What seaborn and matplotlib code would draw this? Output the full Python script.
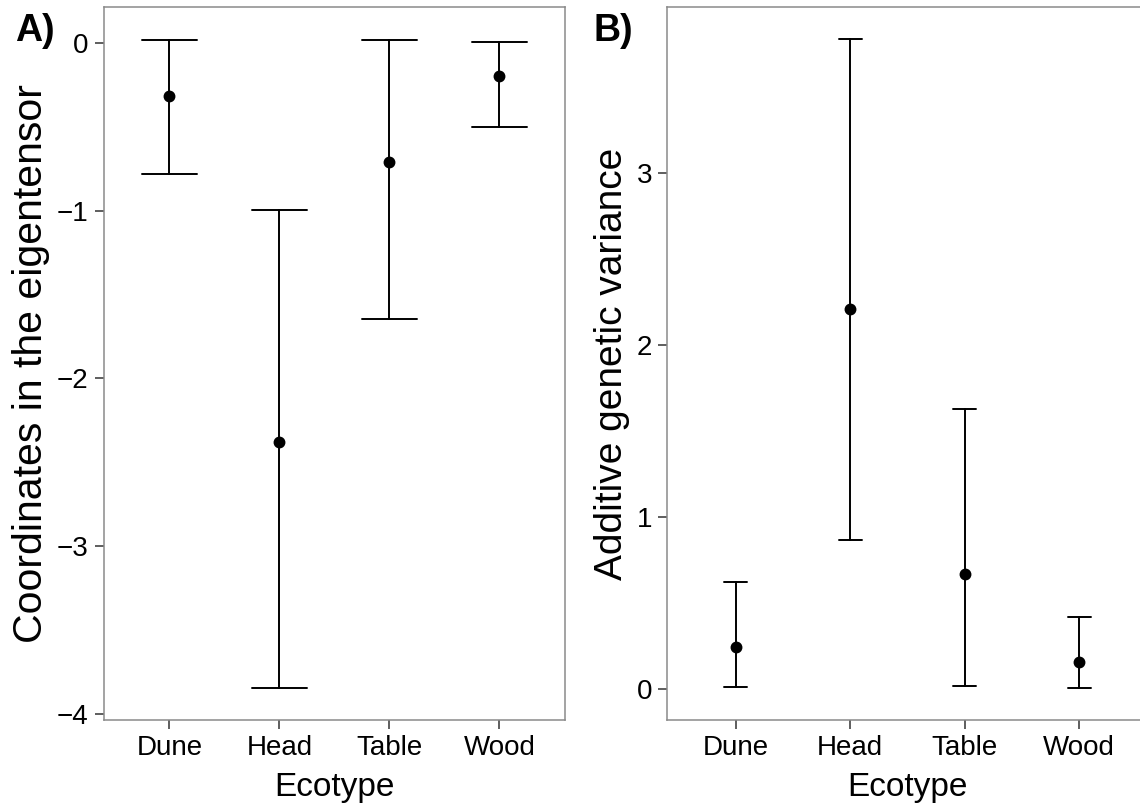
import numpy as np
import pandas as pd
import matplotlib
matplotlib.use("Agg")
import matplotlib.pyplot as plt
import seaborn as sns

# ---- data ----
categories = ["Dune", "Head", "Table", "Wood"]

a_mean = [-0.32, -2.38, -0.71, -0.20]
a_lower = [-0.78, -3.845, -1.647, -0.502]
a_upper = [0.016, -0.997, 0.018, 0.006]

b_mean = [0.241, 2.21, 0.669, 0.154]
b_lower = [0.008, 0.867, 0.016, 0.006]
b_upper = [0.623, 3.78, 1.626, 0.417]

a_ticks = [0, -1, -2, -3, -4]
b_ticks = [0, 1, 2, 3]


def long_frame(mean, lower, upper):
    rows = []
    for c, m, lo, up in zip(categories, mean, lower, upper):
        for v in (lo, m, up):
            rows.append({"Ecotype": c, "value": v})
    return pd.DataFrame(rows)


dfA = long_frame(a_mean, a_lower, a_upper)
dfB = long_frame(b_mean, b_lower, b_upper)

sns.set_style("ticks")
plt.rcParams["font.family"] = ["Liberation Sans", "DejaVu Sans"]
plt.rcParams["text.color"] = "black"
plt.rcParams["axes.labelcolor"] = "black"

W, H = 1140, 807
fig = plt.figure(figsize=(W / 100, H / 100), dpi=100)
axA = fig.add_axes([103.5 / W, 87 / H, (565.3 - 103.5) / W, 713 / H])
axB = fig.add_axes([667 / W, 87 / H, (1148 - 667) / W, 713 / H])

common = dict(x="Ecotype", y="value", order=categories, estimator="median",
              errorbar=("pi", 100), color="black", linestyle="none",
              marker="o", markersize=6.5, err_kws={"linewidth": 1.4})

sns.pointplot(data=dfA, ax=axA, capsize=0.5, **common)
sns.pointplot(data=dfB, ax=axB, capsize=0.2, **common)


def style(ax, ylim, yticks, ylabel, ysize, ypad):
    ax.set_xlim(-0.6, 3.6)
    ax.set_ylim(*ylim)
    ax.set_yticks(yticks)
    for s in ax.spines.values():
        s.set_visible(True)
        s.set_color("#8a8a8a")
        s.set_linewidth(1.1)
    ax.tick_params(axis="both", length=6.3, width=1.1, color="#333333",
                   labelsize=20, labelcolor="black", pad=4.5)
    ax.set_xlabel("Ecotype", fontsize=24, labelpad=8)
    ax.set_ylabel(ylabel, fontsize=ysize, labelpad=ypad)


style(axA, (-4.036, 0.213), a_ticks, "Coordinates in the eigentensor", 29.5, 5)
style(axB, (-0.182, 3.968), b_ticks, "Additive genetic variance", 28, 5)

fig.text(15 / W, 1 - 13 / H, "A)", fontsize=27, fontweight="bold", va="top", ha="left")
fig.text(594 / W, 1 - 13 / H, "B)", fontsize=27, fontweight="bold", va="top", ha="left")

fig.savefig("out.png", dpi=100)
